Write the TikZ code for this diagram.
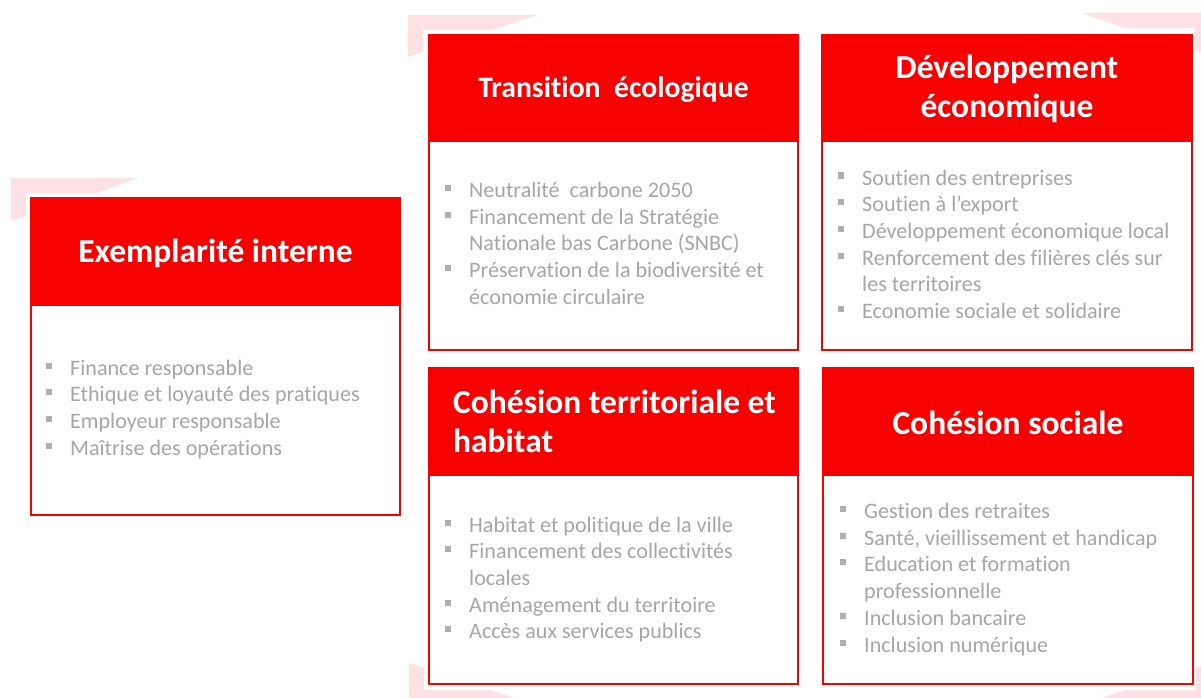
\documentclass[tikz,border=0pt]{standalone}
\usepackage{fontspec}
\setmainfont{Carlito}[Ligatures={NoCommon,NoContextual},Contextuals=NoAlternate]
\definecolor{cred}{RGB}{246,0,0}
\definecolor{cpink}{RGB}{253,225,229}
\definecolor{tgray}{RGB}{166,166,166}
\definecolor{bgray}{RGB}{175,175,175}
\newcommand\bul{\llap{\textcolor{bgray}{\rule[6.5pt]{6pt}{6pt}}\hspace{18pt}}}
\tikzset{
  frame/.style={draw=cred, line width=2pt, fill=white, inner sep=0, anchor=north west},
  hdr/.style={draw=cred, fill=cred, line width=2pt, inner sep=0, anchor=north west},
  htext/.style={text=white, font=\fontsize{33.5}{39}\selectfont\bfseries, align=center, inner sep=0},
  itm/.style={text=tgray, font=\fontsize{22.1}{26.7}\selectfont, anchor=base west, inner sep=0},
  deco/.style={fill=cpink, draw=none}
}
\begin{document}
\begin{tikzpicture}[x=1pt,y=-1pt]
\useasboundingbox (0,0) rectangle (1201,698);
\begin{scope}
\clip (0,0) rectangle (1201,698);
% decorative corners
\fill[deco] (408,15) -- (537,15) -- (492,30) -- (423,30) -- (423,52) -- (408,57) -- cycle;
\fill[deco] (11,178) -- (138,178) -- (97,193) -- (26,193) -- (26,216) -- (11,221) -- cycle;
\fill[deco] (1082,13) -- (1210,13) -- (1210,55) -- (1195,50) -- (1195,28) -- (1125,28) -- cycle;
\fill[deco] (409,663) -- (424,668) -- (424,690) -- (490,690) -- (535,705) -- (409,705) -- cycle;
\fill[deco] (1196,668) -- (1210,663) -- (1210,705) -- (1080,705) -- (1125,690) -- (1196,690) -- cycle;
\end{scope}
% box 1
\node[frame, minimum width=369pt, minimum height=317pt] (f1) at (30,197) {};
\node[hdr, minimum width=369pt, minimum height=107pt] (h1) at (30,197) {};
\node[htext] (t1) at ([yshift=-1.5pt]h1.center) {Exemplarité interne};
% box 2
\node[frame, minimum width=369pt, minimum height=315pt] (f2) at (428,34) {};
\node[hdr, minimum width=369pt, minimum height=106pt] (h2) at (428,34) {};
\node[htext, font=\fontsize{29.7}{36}\selectfont\bfseries] (t2) at ([yshift=-1.5pt]h2.center) {Transition~ écologique};
% box 3
\node[frame, minimum width=370pt, minimum height=315pt] (f3) at (821,34) {};
\node[hdr, minimum width=370pt, minimum height=106pt] (h3) at (821,34) {};
\node[htext] (t3) at ([yshift=-1pt]h3.center) {Développement\\économique};
% box 4
\node[frame, minimum width=369pt, minimum height=316pt] (f4) at (428,367) {};
\node[hdr, minimum width=369pt, minimum height=107pt] (h4) at (428,367) {};
\node[htext, align=left, anchor=west] (t4) at (453,421.5) {Cohésion territoriale et\\habitat};
% box 5
\node[frame, minimum width=370pt, minimum height=316pt] (f5) at (822,367) {};
\node[hdr, minimum width=370pt, minimum height=107pt] (h5) at (822,367) {};
\node[htext] (t5) at ([yshift=-1pt]h5.center) {Cohésion sociale};
% lists
\foreach \t [count=\i] in {{\bul Finance responsable},{\bul Ethique et loyauté des pratiques},{\bul Employeur responsable},{\bul Maîtrise des opérations}}
  \node[itm] (a\i) at (70,{375+(\i-1)*26.7}) {\t};
\foreach \t [count=\i] in {{\bul Neutralité~ carbone 2050},{\bul Financement de la Stratégie},{Nationale bas Carbone (SNBC)},{\bul Préservation de la biodiversité et},{économie circulaire}}
  \node[itm] (b\i) at (469,{197.5+(\i-1)*26.7}) {\t};
\foreach \t [count=\i] in {{\bul Soutien des entreprises},{\bul Soutien à l’export},{\bul Développement économique local},{\bul Renforcement des filières clés sur},{les territoires},{\bul Economie sociale et solidaire}}
  \node[itm] (c\i) at (862,{185+(\i-1)*26.7}) {\t};
\foreach \t [count=\i] in {{\bul Habitat et politique de la ville},{\bul Financement des collectivités},{locales},{\bul Aménagement du territoire},{\bul Accès aux services publics}}
  \node[itm] (d\i) at (469,{532+(\i-1)*26.7}) {\t};
\foreach \t [count=\i] in {{\bul Gestion des retraites},{\bul Santé, vieillissement et handicap},{\bul Education et formation},{professionnelle},{\bul Inclusion bancaire},{\bul Inclusion numérique}}
  \node[itm] (e\i) at (864,{518.5+(\i-1)*26.7}) {\t};
\end{tikzpicture}
\end{document}
